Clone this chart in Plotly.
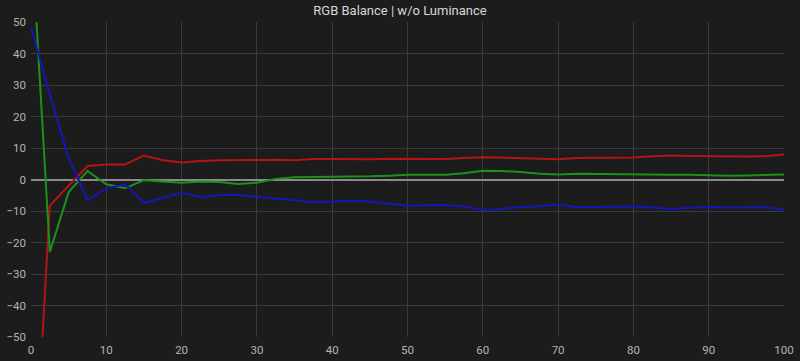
import plotly.graph_objects as go

x_vals = [i * 2.5 for i in range(41)]

red = [-115, -8.3, -2.0, 4.3, 4.8, 4.8, 7.6, 6.1, 5.4, 5.9, 6.1, 6.2, 6.4, 6.3, 6.1, 6.5, 6.5,
       6.4, 6.4, 6.6, 6.6, 6.5, 6.5, 6.8, 7.1, 7.0, 6.9, 6.6, 6.4, 6.8, 6.9, 7.0, 7.0, 7.4,
       7.6, 7.5, 7.4, 7.4, 7.3, 7.4, 7.9]
green = [80, -23, -4.0, 2.7, -1.5, -2.8, -0.2, -0.5, -1.0, -0.6, -0.8, -1.4, -1.0, 0.2, 0.7,
         0.8, 0.8, 0.9, 1.0, 1.2, 1.5, 1.5, 1.5, 2.0, 2.8, 2.7, 2.4, 1.8, 1.6, 1.8, 1.7, 1.6,
         1.6, 1.6, 1.5, 1.5, 1.3, 1.2, 1.3, 1.4, 1.6]
blue = [48.5, 27, 6.7, -6.5, -2.8, -1.5, -7.4, -5.7, -4.2, -5.6, -4.9, -4.9, -5.4, -6.0, -6.6,
        -7.2, -7.1, -6.8, -7.0, -7.6, -8.3, -8.2, -8.1, -8.6, -9.7, -9.4, -8.7, -8.6, -7.9,
        -8.8, -8.7, -8.6, -8.6, -8.9, -9.4, -9.0, -8.7, -8.9, -8.8, -8.8, -9.5]

x_ticks = list(range(0, 101, 10))
y_ticks = list(range(-50, 51, 10))

fig = go.Figure()
for name, vals, col in [("Red", red, "#b31414"), ("Green", green, "#1c921c"), ("Blue", blue, "#1616b4")]:
    fig.add_trace(go.Scatter(x=x_vals, y=vals, mode="lines", name=name,
                             line=dict(color=col, width=2), showlegend=False))

fig.update_layout(
    width=800, height=361,
    paper_bgcolor="#1c1c1c", plot_bgcolor="#1c1c1c",
    margin=dict(l=31, r=16, t=22, b=24, autoexpand=False),
    title=dict(text="RGB Balance | w/o Luminance", x=0.5, xanchor="center", y=0.985, yanchor="top",
               font=dict(family="Roboto", size=13, color="#d8d8d8")),
    font=dict(family="Roboto", size=11.5, color="#b4b4b4"),
)
fig.update_xaxes(range=[0, 100], tickvals=x_ticks, showgrid=True, gridcolor="#3a3a3a", gridwidth=1,
                 zeroline=False, ticks="", ticklen=0, automargin=False, ticklabelstandoff=4,
                 tickfont=dict(size=11.5, color="#b4b4b4"))
fig.update_yaxes(range=[-50, 50], tickvals=y_ticks, showgrid=True, gridcolor="#3a3a3a", gridwidth=1,
                 zeroline=True, zerolinecolor="#8a8a8a", zerolinewidth=2, automargin=False,
                 ticks="", ticklabelstandoff=4, tickfont=dict(size=11.5, color="#b4b4b4"))

fig.write_html("out.html")
